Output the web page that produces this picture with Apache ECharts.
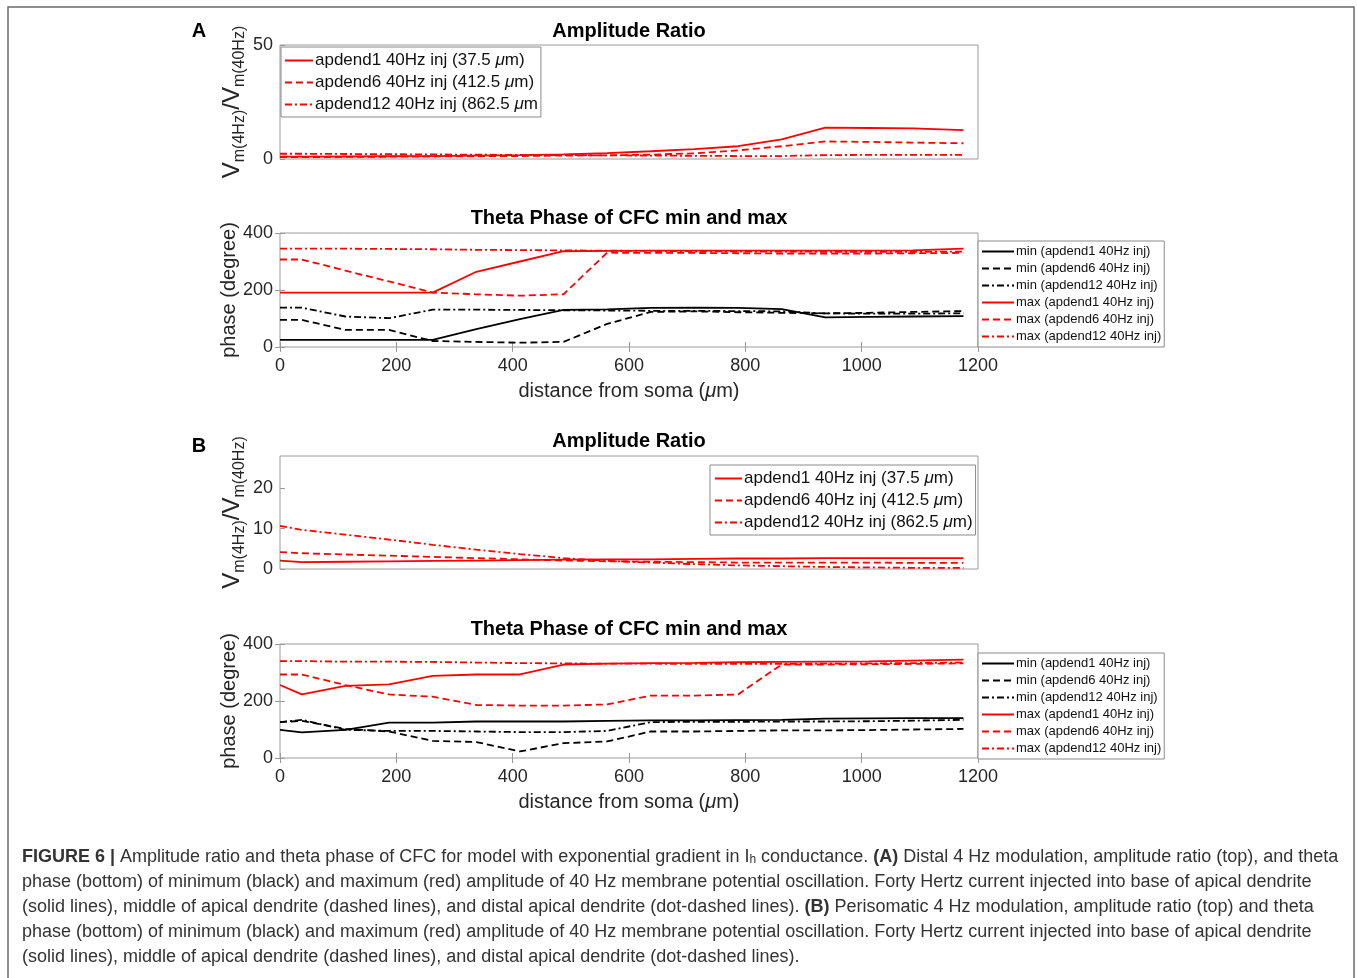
<!DOCTYPE html>
<html>
<head>
<meta charset="utf-8">
<script src="https://cdn.jsdelivr.net/npm/echarts@6/dist/echarts.min.js"></script>
<style>
  html, body { margin: 0; padding: 0; background: #fff; }
  #chart { width: 1357px; height: 978px; }
</style>
</head>
<body>
<div id="chart"></div>
<script>
// distances along the apical dendrite (um)
var distance = [0, 37.5, 112.5, 187.5, 262.5, 337.5, 412.5, 487.5, 562.5, 637.5, 712.5, 787.5, 862.5, 937.5, 1012.5, 1087.5, 1175];

// A: amplitude ratio
var ampA_d1  = [1.0, 1.0, 1.1, 1.2, 1.3, 1.5, 1.7, 2.0, 2.6, 3.4, 4.3, 5.6, 8.6, 13.8, 13.6, 13.4, 12.7];
var ampA_d6  = [0.8, 0.8, 0.9, 1.0, 1.1, 1.2, 1.3, 1.5, 1.6, 1.9, 2.5, 3.8, 5.6, 7.7, 7.5, 7.2, 6.9];
var ampA_d12 = [2.3, 2.3, 2.2, 2.1, 2.0, 1.9, 1.8, 1.7, 1.6, 1.5, 1.4, 1.3, 1.3, 1.7, 1.8, 1.8, 1.8];

// A: theta phase (degree)
var phA_min1  = [25, 25, 25, 25, 25, 63, 98, 130, 132, 137, 138, 137, 133, 104, 106, 107, 108];
var phA_min6  = [95, 95, 60, 60, 21, 18, 15, 18, 81, 123, 125, 122, 120, 118, 120, 123, 126];
var phA_min12 = [138, 138, 107, 101, 131, 131, 130, 129, 128, 127, 127, 126, 125, 118, 117, 117, 118];
var phA_max1  = [191, 191, 191, 191, 191, 264, 300, 336, 337, 338, 338, 338, 338, 338, 338, 339, 345];
var phA_max6  = [307, 307, 268, 230, 191, 185, 180, 185, 331, 330, 330, 329, 328, 328, 328, 329, 330];
var phA_max12 = [345, 345, 345, 344, 343, 341, 340, 339, 338, 337, 336, 335, 335, 334, 334, 334, 335];

// B: amplitude ratio
var ampB_d1  = [2.1, 1.7, 1.8, 1.9, 2.0, 2.1, 2.2, 2.3, 2.4, 2.4, 2.5, 2.6, 2.6, 2.7, 2.7, 2.7, 2.7];
var ampB_d6  = [4.2, 3.9, 3.6, 3.3, 3.0, 2.7, 2.4, 2.1, 1.9, 1.8, 1.7, 1.6, 1.6, 1.6, 1.6, 1.5, 1.5];
var ampB_d12 = [10.7, 9.7, 8.5, 7.3, 6.0, 4.8, 3.7, 2.7, 2.0, 1.6, 1.2, 0.9, 0.7, 0.5, 0.4, 0.3, 0.3];

// B: theta phase (degree)
var phB_min1  = [99, 90, 99, 124, 124, 128, 128, 128, 130, 132, 132, 133, 134, 138, 139, 140, 140];
var phB_min6  = [126, 130, 102, 93, 60, 56, 23, 52, 58, 93, 93, 95, 97, 97, 98, 100, 102];
var phB_min12 = [126, 134, 99, 95, 95, 93, 91, 91, 95, 126, 127, 127, 128, 128, 129, 131, 134];
var phB_max1  = [256, 223, 253, 258, 288, 293, 293, 328, 331, 333, 334, 336, 337, 338, 339, 342, 345];
var phB_max6  = [293, 293, 256, 223, 215, 186, 184, 184, 188, 219, 219, 223, 328, 328, 329, 330, 332];
var phB_max12 = [340, 340, 338, 338, 337, 335, 333, 332, 331, 331, 330, 330, 330, 331, 332, 333, 335];

var ampNamesA = ['apdend1 40Hz inj (37.5 μm)', 'apdend6 40Hz inj (412.5 μm)', 'apdend12 40Hz inj (862.5 μm'];
var ampNamesB = ['apdend1 40Hz inj (37.5 μm)', 'apdend6 40Hz inj (412.5 μm)', 'apdend12 40Hz inj (862.5 μm)'];
var phaseNames = ['min (apdend1 40Hz inj)', 'min (apdend6 40Hz inj)', 'min (apdend12 40Hz inj)',
                  'max (apdend1 40Hz inj)', 'max (apdend6 40Hz inj)', 'max (apdend12 40Hz inj)'];

var FONT = 'Liberation Sans, Arial, sans-serif';
var TXT = '#262626';
var BOX = '#9a9a9a';
var DASH = [7, 4];
var DASHDOT = [7, 3, 2, 3];

var chart = echarts.init(document.getElementById('chart'));

function line(name, values, axis, color, type) {
    return {
        name: name,
        type: 'line',
        xAxisIndex: axis,
        yAxisIndex: axis,
        symbol: 'none',
        data: distance.map(function (d, i) { return [d, values[i]]; }),
        lineStyle: { color: color, width: 1.8, type: type },
        itemStyle: { color: color },
        z: 3
    };
}

var grids = [
    { left: 280, top: 45, width: 698, height: 114 },
    { left: 280, top: 233, width: 698, height: 114 },
    { left: 280, top: 456, width: 698, height: 113 },
    { left: 280, top: 644, width: 698, height: 114 }
].map(function (g) {
    return Object.assign({ show: true, borderColor: BOX, borderWidth: 1, backgroundColor: '#fff' }, g);
});

var tickLbl = { color: TXT, fontSize: 18, fontFamily: FONT };

function xAx(grid, labels) {
    return {
        type: 'value', gridIndex: grid, min: 0, max: 1200, interval: 200,
        axisLine: { show: false },
        axisTick: { show: labels, inside: true, length: 5, lineStyle: { color: BOX } },
        axisLabel: Object.assign({ show: labels, margin: 10, formatter: function (v) { return String(v); } }, tickLbl),
        splitLine: { show: false },
        name: labels ? 'distance from soma ({i|μ}m)' : '',
        nameLocation: 'middle', nameGap: 34, nameMoveOverlap: false,
        nameTextStyle: {
            color: TXT, fontSize: 20, fontFamily: FONT,
            rich: { i: { fontStyle: 'italic', color: TXT, fontSize: 20, fontFamily: FONT } }
        }
    };
}
function xTop(grid) {
    return {
        type: 'value', gridIndex: grid, position: 'top', min: 0, max: 1200, interval: 200,
        axisLine: { show: false }, axisLabel: { show: false }, splitLine: { show: false },
        axisTick: { show: true, inside: true, length: 5, lineStyle: { color: BOX } }
    };
}

var vRich = {
    v: { fontSize: 24, lineHeight: 24, verticalAlign: 'top', color: TXT, fontFamily: FONT },
    s: { fontSize: 16, lineHeight: 16, padding: [12, 0, 0, 0], verticalAlign: 'top', color: TXT, fontFamily: FONT }
};

function yAx(grid, max, interval, name, gap, isAmp) {
    return {
        type: 'value', gridIndex: grid, min: 0, max: max, interval: interval,
        axisLine: { show: false },
        axisTick: { show: true, inside: true, length: 5, lineStyle: { color: BOX } },
        axisLabel: Object.assign({ margin: 7, showMaxLabel: max % interval === 0 }, tickLbl),
        splitLine: { show: false },
        name: name, nameLocation: 'middle', nameRotate: 90, nameGap: gap, nameMoveOverlap: false,
        nameTextStyle: isAmp ? { rich: vRich } : { color: TXT, fontSize: 20, fontFamily: FONT }
    };
}
function yRight(grid) {
    return {
        type: 'value', gridIndex: grid, position: 'right', min: 0, max: 400, interval: 200,
        axisLine: { show: false }, axisLabel: { show: false }, splitLine: { show: false },
        axisTick: { show: true, inside: true, length: 5, lineStyle: { color: BOX } }
    };
}

var ampName = '{v|V}{s|m(4Hz)}{v|/V}{s|m(40Hz)}';

function legendOf(names, left, top, fs, iw, gap, pad) {
    return {
        data: names, orient: 'vertical', left: left, top: top,
        itemWidth: iw, itemHeight: 10, itemGap: gap, padding: pad,
        borderColor: '#8a8a8a', borderWidth: 1, backgroundColor: '#fff',
        selectedMode: false, inactiveColor: '#000',
        itemStyle: { opacity: 0 },
        formatter: function (n) { return n.replace('μ', '{i|μ}'); },
        textStyle: {
            color: '#111', fontSize: fs, fontFamily: FONT, lineHeight: fs, padding: [0, 0, 0, -3],
            rich: { i: { fontStyle: 'italic', fontSize: fs, fontFamily: FONT, color: '#111' } }
        }
    };
}

function title(text, x, y) {
    return { type: 'text', x: x, y: y, style: { text: text, fill: '#000', fontSize: 20, fontWeight: 'bold', fontFamily: FONT, align: 'center', verticalAlign: 'middle' } };
}

var CAP = 18;
var capRich = {
    n: { fontSize: CAP, fontFamily: FONT, fill: '#333' },
    b: { fontSize: CAP, fontFamily: FONT, fill: '#333', fontWeight: 'bold' },
    sub: { fontSize: 12, fontFamily: FONT, fill: '#333', verticalAlign: 'bottom', lineHeight: 12, padding: [6, 0, 0, 0] }
};
var captionLines = [
    '{b|FIGURE 6 |}{n| Amplitude ratio and theta phase of CFC for model with exponential gradient in I}{sub|h}{n| conductance. }{b|(A)}{n| Distal 4 Hz modulation, amplitude ratio (top), and theta}',
    '{n|phase (bottom) of minimum (black) and maximum (red) amplitude of 40 Hz membrane potential oscillation. Forty Hertz current injected into base of apical dendrite}',
    '{n|(solid lines), middle of apical dendrite (dashed lines), and distal apical dendrite (dot-dashed lines). }{b|(B)}{n| Perisomatic 4 Hz modulation, amplitude ratio (top) and theta}',
    '{n|phase (bottom) of minimum (black) and maximum (red) amplitude of 40 Hz membrane potential oscillation. Forty Hertz current injected into base of apical dendrite}',
    '{n|(solid lines), middle of apical dendrite (dashed lines), and distal apical dendrite (dot-dashed lines).}'
];

var graphics = [
    { type: 'rect', shape: { x: 8, y: 7, width: 1346, height: 1010 }, style: { fill: 'none', stroke: '#6a6a6a', lineWidth: 1.5 } },
    { type: 'text', x: 199, y: 31, style: { text: 'A', fill: '#000', fontSize: 20, fontWeight: 'bold', fontFamily: FONT, align: 'center', verticalAlign: 'middle' } },
    { type: 'text', x: 199, y: 446, style: { text: 'B', fill: '#000', fontSize: 20, fontWeight: 'bold', fontFamily: FONT, align: 'center', verticalAlign: 'middle' } },
    title('Amplitude Ratio', 629, 31),
    title('Theta Phase of CFC min and max', 629, 218),
    title('Amplitude Ratio', 629, 441),
    title('Theta Phase of CFC min and max', 629, 629)
];
captionLines.forEach(function (t, i) {
    graphics.push({ type: 'text', x: 22, y: 857 + i * 25, style: { text: t, rich: capRich, fontSize: CAP, fontFamily: FONT, fill: '#333', align: 'left', verticalAlign: 'middle' } });
});

var option = {
    animation: false,
    backgroundColor: '#fff',
    grid: grids,
    xAxis: [xAx(0, false), xAx(1, true), xAx(2, false), xAx(3, true), xTop(1), xTop(3)],
    yAxis: [
        yAx(0, 50, 50, ampName, 36, true),
        yAx(1, 400, 200, 'phase (degree)', 41, false),
        yAx(2, 28, 10, ampName, 36, true),
        yAx(3, 400, 200, 'phase (degree)', 41, false),
        yRight(1), yRight(3)
    ],
    legend: [
        legendOf(ampNamesA, 281, 47, 17, 28, 5, [5, 3, 4, 3]),
        legendOf(phaseNames, 978, 241, 13, 32, 4, [4, 3, 4, 3]),
        legendOf(ampNamesB, 710, 465, 17, 27, 5, [5, 3, 4, 4]),
        legendOf(phaseNames, 978, 653, 13, 32, 4, [4, 3, 4, 3])
    ],
    graphic: graphics,
    series: [
        line(ampNamesA[0], ampA_d1, 0, '#ff0000', 'solid'),
        line(ampNamesA[1], ampA_d6, 0, '#ff0000', DASH),
        line(ampNamesA[2], ampA_d12, 0, '#ff0000', DASHDOT),

        line(phaseNames[0], phA_min1, 1, '#000', 'solid'),
        line(phaseNames[1], phA_min6, 1, '#000', DASH),
        line(phaseNames[2], phA_min12, 1, '#000', DASHDOT),
        line(phaseNames[3], phA_max1, 1, '#ff0000', 'solid'),
        line(phaseNames[4], phA_max6, 1, '#ff0000', DASH),
        line(phaseNames[5], phA_max12, 1, '#ff0000', DASHDOT),

        line(ampNamesB[0], ampB_d1, 2, '#ff0000', 'solid'),
        line(ampNamesB[1], ampB_d6, 2, '#ff0000', DASH),
        line(ampNamesB[2], ampB_d12, 2, '#ff0000', DASHDOT),

        line(phaseNames[0], phB_min1, 3, '#000', 'solid'),
        line(phaseNames[1], phB_min6, 3, '#000', DASH),
        line(phaseNames[2], phB_min12, 3, '#000', DASHDOT),
        line(phaseNames[3], phB_max1, 3, '#ff0000', 'solid'),
        line(phaseNames[4], phB_max6, 3, '#ff0000', DASH),
        line(phaseNames[5], phB_max12, 3, '#ff0000', DASHDOT)
    ]
};

chart.setOption(option);
window.addEventListener('resize', function () { chart.resize(); });
</script>
</body>
</html>
